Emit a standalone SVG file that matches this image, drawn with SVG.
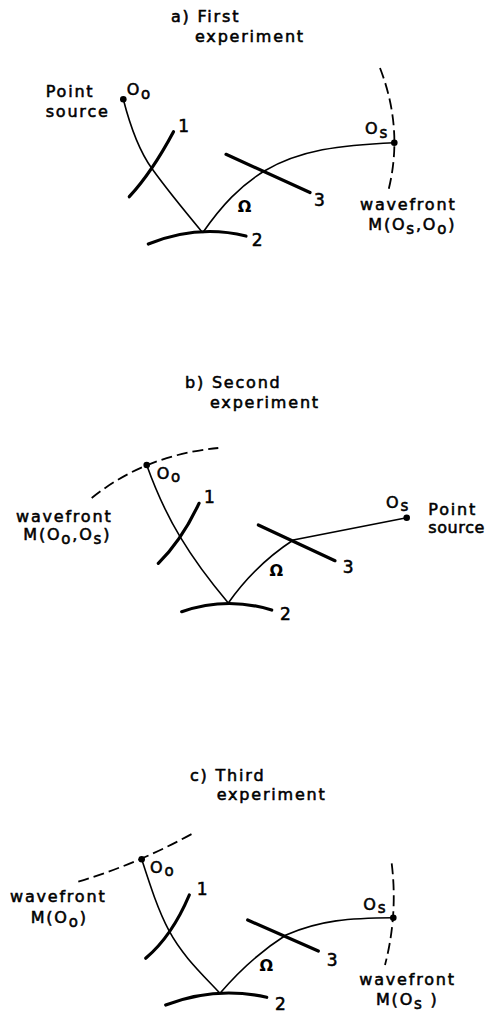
<svg xmlns="http://www.w3.org/2000/svg" width="488" height="1013" viewBox="0 0 488 1013">
<style>
.t{font-family:"DejaVu Sans","Liberation Sans",sans-serif;font-size:16px;letter-spacing:1.8px;fill:#000;stroke:#000;stroke-width:0.55}
.n{font-family:"DejaVu Sans","Liberation Sans",sans-serif;font-size:17px;fill:#000;stroke:#000;stroke-width:0.55}
.om{font-family:"DejaVu Sans","Liberation Sans",sans-serif;font-size:16px;font-weight:bold;fill:#000}
.ray{fill:none;stroke:#000;stroke-width:1.6}
.mir{fill:none;stroke:#000;stroke-width:3.2;stroke-linecap:round}
.wave{fill:none;stroke:#000;stroke-width:1.8;stroke-dasharray:11 5}
.dot{fill:#000}
</style>
<rect width="488" height="1013" fill="#fff"/>

<!-- Panel a -->
<g id="panel-a">
  <g id="a-title">
    <text class="t" x="171" y="21.5">a) First</text>
    <text class="t" x="195" y="41.7">experiment</text>
  </g>
  <g id="a-connectors">
    <path class="ray" d="M123.3,99.3 Q135,145 151.7,168.3 T202.7,232.7"/>
    <path class="ray" d="M202.7,232.7 C222,205 240,186 264.3,171 C300,150 340,145 394.3,142.7"/>
  </g>
  <g id="a-source">
    <circle class="dot" cx="123.3" cy="99.3" r="3.3"/>
    <text class="t" x="45.7" y="97">Point</text>
    <text class="t" x="45.7" y="117">source</text>
    <text class="t" x="126.7" y="95">O<tspan dy="4" font-size="15">o</tspan></text>
  </g>
  <g id="a-mirror1">
    <path class="mir" d="M129.3,196.7 Q152,172 173.5,131.7"/>
    <text class="n" x="178.3" y="131.7">1</text>
  </g>
  <g id="a-mirror2">
    <path class="mir" d="M148.3,244 Q197.5,224 246,236"/>
    <text class="n" x="251.7" y="246">2</text>
  </g>
  <g id="a-mirror3">
    <path class="mir" d="M226,154.3 L310,192.5"/>
    <text class="n" x="314" y="206">3</text>
  </g>
  <text id="a-omega" class="om" x="237.8" y="211.7">Ω</text>
  <g id="a-wavefront">
    <path class="wave" d="M380,68 Q404,130 388,192"/>
    <circle class="dot" cx="394.3" cy="142.7" r="3.3"/>
    <text class="t" x="365" y="134">O<tspan dy="4" font-size="15">s</tspan></text>
    <text class="t" x="360" y="210">wavefront</text>
    <text class="t" x="368.3" y="230">M(O<tspan dy="4" font-size="15">s</tspan><tspan dy="-4">,O</tspan><tspan dy="4" font-size="15">o</tspan><tspan dy="-4">)</tspan></text>
  </g>
</g>

<!-- Panel b -->
<g id="panel-b">
  <g id="b-title">
    <text class="t" x="185" y="388.3">b) Second</text>
    <text class="t" x="210" y="408">experiment</text>
  </g>
  <g id="b-connectors">
    <path class="ray" d="M146.7,465 Q161,505 180,536.7 T228.3,603"/>
    <path class="ray" d="M228.3,603 Q255,565 293.3,540 L406.7,517.7"/>
  </g>
  <g id="b-wavefront">
    <path class="wave" d="M91.7,498 Q145,455 218.3,448"/>
    <circle class="dot" cx="146.7" cy="465" r="3.3"/>
    <text class="t" x="156.7" y="479">O<tspan dy="3" font-size="15">o</tspan></text>
    <text class="t" x="16" y="521.7">wavefront</text>
    <text class="t" x="23.3" y="540">M(O<tspan dy="4" font-size="15">o</tspan><tspan dy="-4">,O</tspan><tspan dy="4" font-size="15">s</tspan><tspan dy="-4">)</tspan></text>
  </g>
  <g id="b-mirror1">
    <path class="mir" d="M158.3,563.3 Q182,540 199,503.3"/>
    <text class="n" x="204" y="503.3">1</text>
  </g>
  <g id="b-mirror2">
    <path class="mir" d="M181.7,611.7 Q226.7,596.2 271.7,610"/>
    <text class="n" x="280" y="620">2</text>
  </g>
  <g id="b-mirror3">
    <path class="mir" d="M258.3,525 L335,560.7"/>
    <text class="n" x="342.7" y="573.3">3</text>
  </g>
  <text id="b-omega" class="om" x="269.5" y="576">Ω</text>
  <g id="b-source">
    <circle class="dot" cx="406.7" cy="517.7" r="3.3"/>
    <text class="t" x="386" y="508">O<tspan dy="3" font-size="15">s</tspan></text>
    <text class="t" x="428.3" y="515">Point</text>
    <text class="t" x="428.3" y="533.3" style="letter-spacing:0.6px">source</text>
  </g>
</g>

<!-- Panel c -->
<g id="panel-c">
  <g id="c-title">
    <text class="t" x="190" y="780.7">c) Third</text>
    <text class="t" x="216.7" y="800">experiment</text>
  </g>
  <g id="c-connectors">
    <path class="ray" d="M141.7,859.3 C150,885 158,910 169,930.7 C182,955 200,972 220,993.3"/>
    <path class="ray" d="M220,993.3 Q250,958 286,935 C320,920 350,918 393.3,917.7"/>
  </g>
  <g id="c-wavefront-o">
    <path class="wave" d="M78.3,881.7 Q137,864 191.7,834"/>
    <circle class="dot" cx="141.7" cy="859.3" r="3.3"/>
    <text class="t" x="150" y="873.3">O<tspan dy="3" font-size="15">o</tspan></text>
    <text class="t" x="10" y="902.3">wavefront</text>
    <text class="t" x="30.7" y="923.3">M(O<tspan dy="4" font-size="15">o</tspan><tspan dy="-4">)</tspan></text>
  </g>
  <g id="c-mirror1">
    <path class="mir" d="M145.7,958.3 Q172,936 189.3,895"/>
    <text class="n" x="196.7" y="895">1</text>
  </g>
  <g id="c-mirror2">
    <path class="mir" d="M165.7,1005 Q215.8,985.8 266.7,997.3"/>
    <text class="n" x="275" y="1010">2</text>
  </g>
  <g id="c-mirror3">
    <path class="mir" d="M247.7,920 L318.3,951"/>
    <text class="n" x="326.7" y="965.7">3</text>
  </g>
  <text id="c-omega" class="om" x="259.5" y="971">Ω</text>
  <g id="c-wavefront-s">
    <path class="wave" d="M391.7,863.3 Q398,915 385,965"/>
    <circle class="dot" cx="393.3" cy="917.7" r="3.3"/>
    <text class="t" x="363.3" y="910">O<tspan dy="3" font-size="15">s</tspan></text>
    <text class="t" x="359.3" y="985">wavefront</text>
    <text class="t" x="376" y="1005">M(O<tspan dy="4" font-size="15">s</tspan><tspan dy="-4"> )</tspan></text>
  </g>
</g>
</svg>
